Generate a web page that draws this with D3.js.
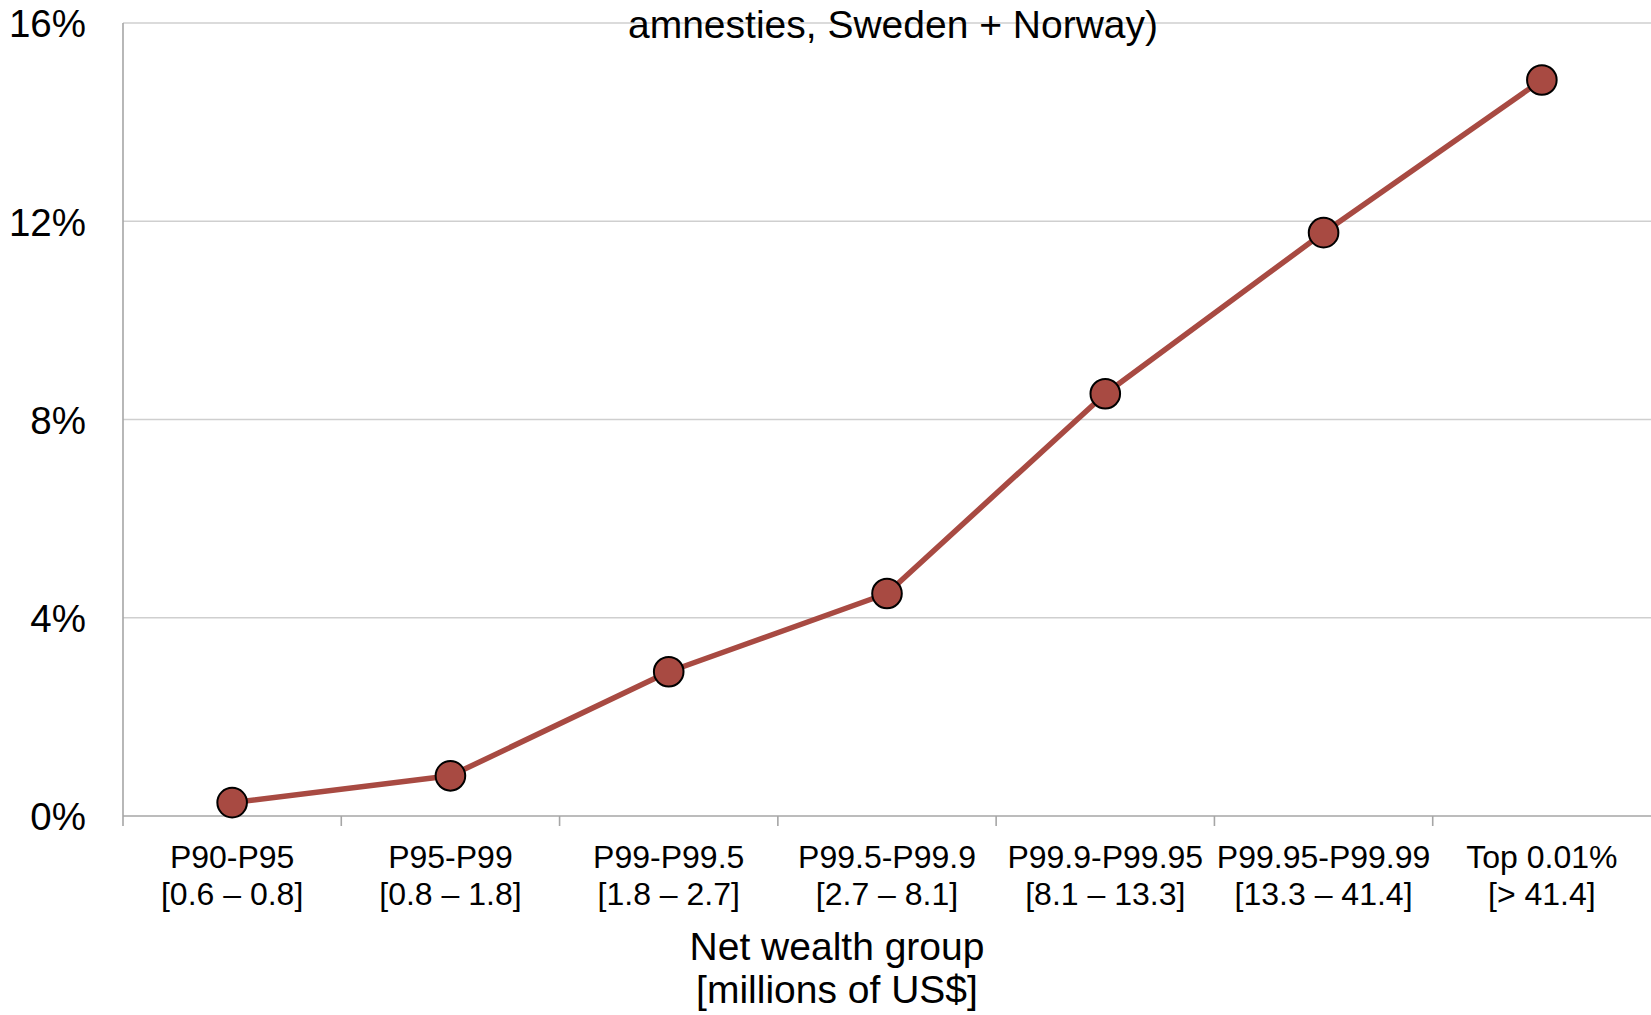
<!DOCTYPE html>
<html>
<head>
<meta charset="utf-8">
<script src="https://cdn.jsdelivr.net/npm/d3@7"></script>
<style>
  html, body { margin: 0; padding: 0; background: #fff; }
  svg { display: block; font-family: "Liberation Sans", Arial, sans-serif; }
</style>
</head>
<body>
<svg id="chart" width="1651" height="1015"></svg>
<script>
const groups = ["P90-P95", "P95-P99", "P99-P99.5", "P99.5-P99.9", "P99.9-P99.95", "P99.95-P99.99", "Top 0.01%"];
const ranges = ["[0.6 – 0.8]", "[0.8 – 1.8]", "[1.8 – 2.7]", "[2.7 – 8.1]", "[8.1 – 13.3]", "[13.3 – 41.4]", "[> 41.4]"];
const values = [0.27, 0.81, 2.91, 4.49, 8.52, 11.77, 14.85];
const yTicks = [0, 4, 8, 12, 16];
const titleText = "amnesties, Sweden + Norway)";
const xTitle = ["Net wealth group", "[millions of US$]"];

(function () {
const svg = d3.select("#chart");
const mLeft = 123, mRight = 1651, mTop = 23, mBottom = 816;

const x = d3.scaleBand().domain(groups).range([mLeft, mRight]).padding(0);
const y = d3.scaleLinear().domain([0, 16]).range([mBottom, mTop]);

// gridlines
svg.append("g").selectAll("line").data(yTicks.filter(d => d > 0)).join("line")
  .attr("x1", mLeft).attr("x2", mRight)
  .attr("y1", d => y(d)).attr("y2", d => y(d))
  .attr("stroke", "#cfcfcf").attr("stroke-width", 1.5);

// y axis
const yAxis = d3.axisLeft(y).tickValues(yTicks).tickSize(0).tickPadding(37).tickFormat(d => d + "%");
const gy = svg.append("g").attr("transform", `translate(${mLeft},0)`).call(yAxis);
gy.select(".domain").remove();
gy.selectAll("text").attr("font-size", 38.5).attr("fill", "#000")
  .attr("font-family", '"Liberation Sans", Arial, sans-serif').attr("dy", "0.36em");
svg.append("line").attr("x1", mLeft).attr("x2", mLeft).attr("y1", mTop).attr("y2", mBottom + 10)
  .attr("stroke", "#a6a6a6").attr("stroke-width", 1.6);

// x axis
svg.append("line").attr("x1", mLeft).attr("x2", mRight).attr("y1", mBottom).attr("y2", mBottom)
  .attr("stroke", "#a6a6a6").attr("stroke-width", 1.6);
const boundaries = groups.map(g => x(g)).slice(1);
svg.append("g").selectAll("line").data(boundaries).join("line")
  .attr("x1", d => d).attr("x2", d => d).attr("y1", mBottom).attr("y2", mBottom + 10)
  .attr("stroke", "#a6a6a6").attr("stroke-width", 1.6);

const xl = svg.append("g").selectAll("text").data(groups).join("text")
  .attr("x", d => x(d) + x.bandwidth() / 2)
  .attr("text-anchor", "middle").attr("font-size", 32).attr("fill", "#000");
xl.append("tspan").attr("x", d => x(d) + x.bandwidth() / 2).attr("y", 868).text(d => d);
xl.append("tspan").attr("x", d => x(d) + x.bandwidth() / 2).attr("y", 905).text((d, i) => ranges[i]);

// axis title
svg.append("g").selectAll("text").data(xTitle).join("text")
  .attr("x", 837).attr("y", (d, i) => 960 + i * 43)
  .attr("text-anchor", "middle").attr("font-size", 39).attr("fill", "#000").text(d => d);

// chart title (partially cut)
svg.append("text").attr("x", 893).attr("y", 38).attr("text-anchor", "middle")
  .attr("font-size", 39).attr("fill", "#000").text(titleText);

// line
const line = d3.line().x((d, i) => x(groups[i]) + x.bandwidth() / 2).y(d => y(d));
svg.append("path").datum(values).attr("d", line)
  .attr("fill", "none").attr("stroke", "#a84a42").attr("stroke-width", 5.5).attr("stroke-linejoin", "round");

svg.append("g").selectAll("circle").data(values).join("circle")
  .attr("cx", (d, i) => x(groups[i]) + x.bandwidth() / 2).attr("cy", d => y(d))
  .attr("r", 14.8).attr("fill", "#a84a42").attr("stroke", "#000").attr("stroke-width", 2);
})();
</script>
</body>
</html>
